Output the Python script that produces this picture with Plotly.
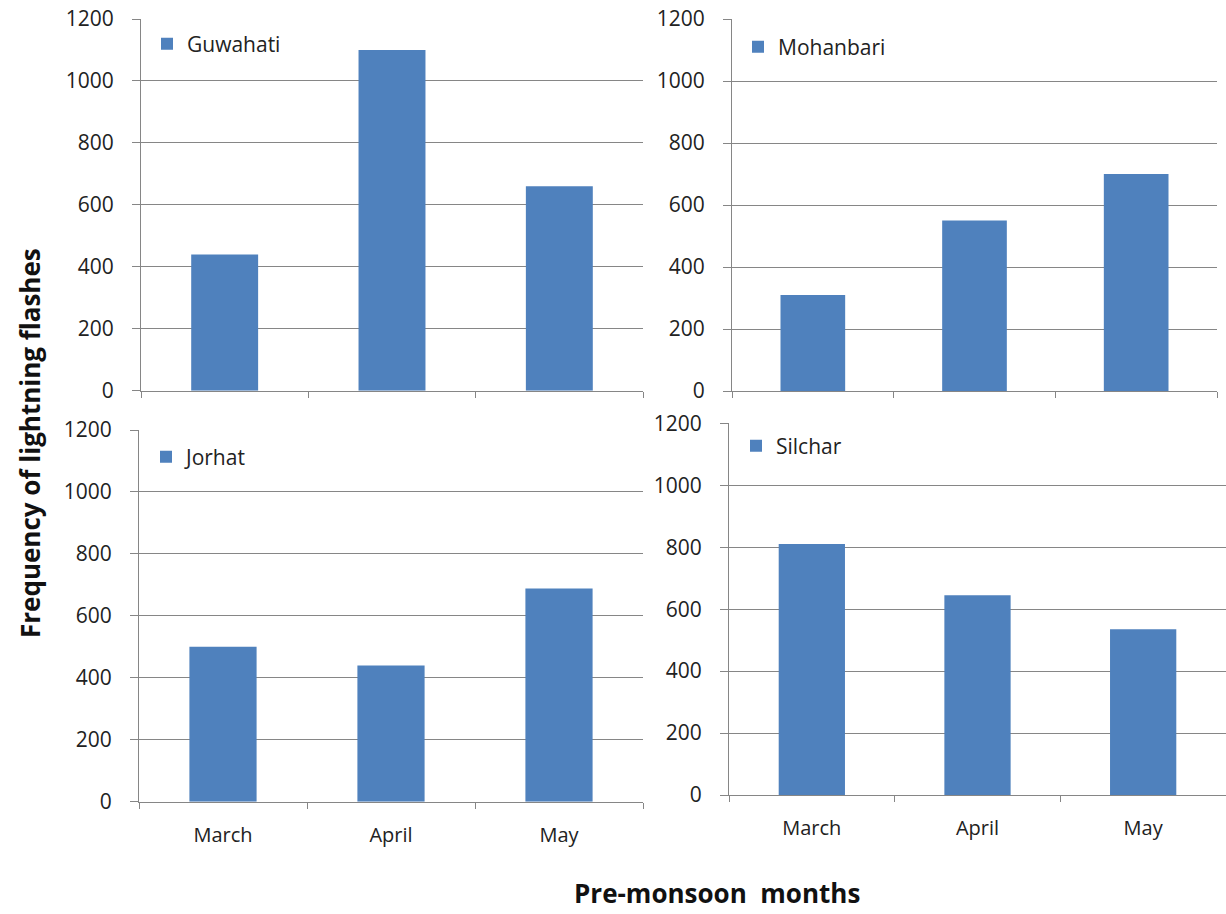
import plotly.graph_objects as go

months = ["March", "April", "May"]
stations = ["Guwahati", "Mohanbari", "Jorhat", "Silchar"]
guwahati = [440, 1100, 660]
mohanbari = [310, 550, 700]
jorhat = [500, 440, 688]
silchar = [810, 645, 535]
series = [guwahati, mohanbari, jorhat, silchar]
y_ticks = [0, 200, 400, 600, 800, 1000, 1200]

W, H = 1226, 914
BAR = "#4F81BD"
GRID = "#868686"
FONT = "Open Sans"

# pixel boxes (left, right, top, bottom) of each panel's plot area
boxes = [(141, 643, 19, 390.7), (732, 1217, 19, 391),
         (139, 643, 430, 801.7), (729, 1226, 423.3, 795)]
legend_pos = [(147, 44), (738, 47), (146, 457), (736, 446)]

fig = go.Figure()
for i, (name, vals) in enumerate(zip(stations, series)):
    n = i + 1
    sfx = "" if n == 1 else str(n)
    fig.add_trace(go.Bar(
        x=months, y=vals, name=name, marker=dict(color=BAR, line=dict(width=0)),
        xaxis="x" + sfx, yaxis="y" + sfx, legend="legend" + sfx, showlegend=True,
    ))
    l, r, t, b = boxes[i]
    fig.layout["xaxis" + sfx] = dict(
        domain=[l / W, r / W], anchor="y" + sfx, showgrid=False, automargin=False,
        showline=True, linecolor=GRID, linewidth=1,
        ticks="outside", tickson="boundaries", ticklen=6, tickcolor=GRID,
        showticklabels=(n >= 3), ticklabelstandoff=15,
        tickfont=dict(family=FONT, size=20, color="#222"),
    )
    fig.layout["yaxis" + sfx] = dict(
        domain=[1 - b / H, 1 - t / H], anchor="x" + sfx, range=[0, 1200],
        tickvals=y_ticks, showgrid=True, gridcolor=GRID, gridwidth=1,
        showline=True, linecolor=GRID, linewidth=1, zeroline=False, automargin=False,
        ticks="outside", ticklen=8, tickcolor=GRID, ticklabelstandoff=14,
        tickfont=dict(family=FONT, size=21, color="#222"),
    )
    lx, ly = legend_pos[i]
    fig.layout["legend" + sfx] = dict(
        x=lx / W, y=1 - ly / H, xanchor="left", yanchor="middle",
        bgcolor="rgba(0,0,0,0)", itemwidth=30,
        font=dict(family=FONT, size=21, color="#222"),
    )

fig.add_annotation(
    text="<b>Frequency of lightning flashes</b>", x=30 / W, y=1 - 443 / H,
    xref="paper", yref="paper", showarrow=False, textangle=-90,
    xanchor="center", yanchor="middle",
    font=dict(family=FONT, size=26, color="#111"),
)
fig.add_annotation(
    text="<b>Pre-monsoon  months</b>", x=717 / W, y=1 - 893 / H,
    xref="paper", yref="paper", showarrow=False,
    xanchor="center", yanchor="middle",
    font=dict(family=FONT, size=26, color="#111"),
)

fig.update_layout(
    width=W, height=H, margin=dict(l=0, r=0, t=0, b=0, autoexpand=False),
    plot_bgcolor="white", paper_bgcolor="white", bargap=0.6,
)
fig.write_html("out.html")
